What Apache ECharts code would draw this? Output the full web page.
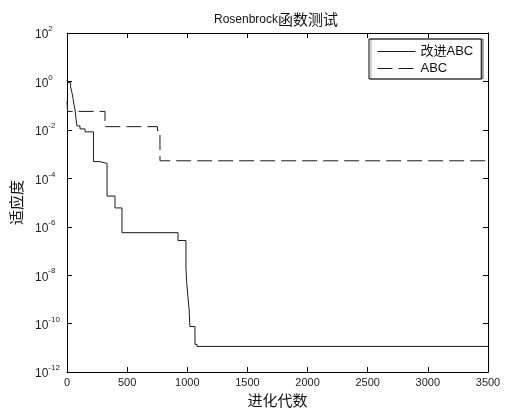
<!DOCTYPE html>
<html>
<head>
<meta charset="utf-8">
<script src="https://cdn.jsdelivr.net/npm/echarts@6/dist/echarts.min.js"></script>
<style>
  html, body { margin: 0; padding: 0; background: #fff; }
  #chart { width: 505px; height: 413px; }
</style>
</head>
<body>
<div id="chart"></div>
<script>
// 迭代代数 与 适应度 (阶梯曲线的转折点)
const improvedGen = [0, 10, 30, 41, 50, 58, 66, 75, 83, 108, 150, 220, 274, 333, 399, 457, 923, 989, 995, 1005, 1015, 1022, 1064, 1081, 3500];
const improvedFit = [1.1, 0.9, 0.6, 0.35, 0.2, 0.11, 0.072, 0.028, 0.0145, 0.011, 0.0083, 4.9e-4, 4.1e-4, 1.85e-5, 6e-6, 5.7e-7, 2.7e-7, 2e-8, 5e-9, 1.3e-9, 4e-10, 7.6e-11, 1.4e-11, 1.15e-11, 1.15e-11];
const abcGen = [0, 5, 316, 752, 773, 3500];
const abcFit = [0.15, 0.058, 0.0136, 0.0095, 5.3e-4, 5.3e-4];
const seriesNames = ['改进ABC', 'ABC'];
const xTicks = [0, 500, 1000, 1500, 2000, 2500, 3000, 3500];
const yExponents = [-12, -10, -8, -6, -4, -2, 0, 2];

const latin = 'Liberation Sans, Arial, sans-serif';
const cjk = 'Noto Sans CJK SC, sans-serif';

// 对数纵轴: 用 log10 后的值画在数值轴上, 标签写成 10^n
const toLog = (xs, ys) => xs.map((x, i) => [x, Math.log10(ys[i])]);

const chart = echarts.init(document.getElementById('chart'));

const axisLine = { show: true, onZero: false, lineStyle: { color: '#000', width: 1 } };
const tick = { show: true, inside: true, length: 5, lineStyle: { color: '#000' } };

const option = {
  backgroundColor: '#fff',
  animation: false,
  title: {
    text: '{a|Rosenbrock}{b|函数测试}',
    left: 209,
    top: 7,
    textStyle: {
      fontWeight: 'normal',
      rich: {
        a: { fontFamily: latin, fontSize: 12, fontWeight: 'normal', color: '#111' },
        b: { fontFamily: cjk, fontSize: 15, fontWeight: 'normal', color: '#111' }
      }
    }
  },
  legend: {
    orient: 'vertical',
    left: 369,
    top: 39,
    padding: [6, 8, 4, 8],
    itemWidth: 38,
    itemHeight: 14,
    itemGap: 4,
    borderColor: '#000',
    borderWidth: 1,
    backgroundColor: '#fff',
    shadowColor: 'rgba(0,0,0,0.35)',
    shadowOffsetX: 2,
    data: seriesNames,
    itemStyle: { opacity: 0 },
    lineStyle: { width: 1 },
    textStyle: { fontFamily: latin + ', ' + cjk, fontSize: 13, color: '#111' }
  },
  grid: { left: 67, right: 17, top: 33, bottom: 37 },
  xAxis: [
    {
      type: 'value',
      min: xTicks[0],
      max: xTicks[xTicks.length - 1],
      interval: 500,
      name: '进化代数',
      nameLocation: 'middle',
      nameGap: 20,
      nameTextStyle: { fontFamily: cjk, fontSize: 15, color: '#111' },
      axisLine: axisLine,
      axisTick: tick,
      splitLine: { show: false },
      axisLabel: { margin: 5, fontFamily: latin, fontSize: 11, color: '#222', formatter: v => String(v) }
    },
    {
      type: 'value',
      position: 'top',
      min: xTicks[0],
      max: xTicks[xTicks.length - 1],
      interval: 500,
      axisLine: axisLine,
      axisTick: tick,
      splitLine: { show: false },
      axisLabel: { show: false }
    }
  ],
  yAxis: [
    {
      type: 'value',
      min: yExponents[0],
      max: yExponents[yExponents.length - 1],
      interval: 2,
      name: '适应度',
      nameLocation: 'middle',
      nameGap: 36,
      nameTextStyle: { fontFamily: cjk, fontSize: 15, color: '#111' },
      axisLine: axisLine,
      axisTick: tick,
      splitLine: { show: false },
      axisLabel: {
        align: 'left',
        margin: 32,
        formatter: v => '{b|10}{s|' + v + '}',
        rich: {
          b: { fontFamily: latin, fontSize: 12, color: '#222', verticalAlign: 'bottom', lineHeight: 16 },
          s: { fontFamily: latin, fontSize: 8, color: '#222', verticalAlign: 'top', lineHeight: 16 }
        }
      }
    },
    {
      type: 'value',
      position: 'right',
      min: yExponents[0],
      max: yExponents[yExponents.length - 1],
      interval: 2,
      axisLine: axisLine,
      axisTick: tick,
      splitLine: { show: false },
      axisLabel: { show: false }
    }
  ],
  series: [
    {
      name: seriesNames[0],
      type: 'line',
      step: 'end',
      symbol: 'none',
      data: toLog(improvedGen, improvedFit),
      lineStyle: { color: '#1a1a1a', width: 1 },
      itemStyle: { color: '#1a1a1a' }
    },
    {
      name: seriesNames[1],
      type: 'line',
      step: 'end',
      symbol: 'none',
      data: toLog(abcGen, abcFit),
      lineStyle: { color: '#1a1a1a', width: 1, type: [15, 6] },
      itemStyle: { color: '#1a1a1a' }
    }
  ]
};

chart.setOption(option);
</script>
</body>
</html>
